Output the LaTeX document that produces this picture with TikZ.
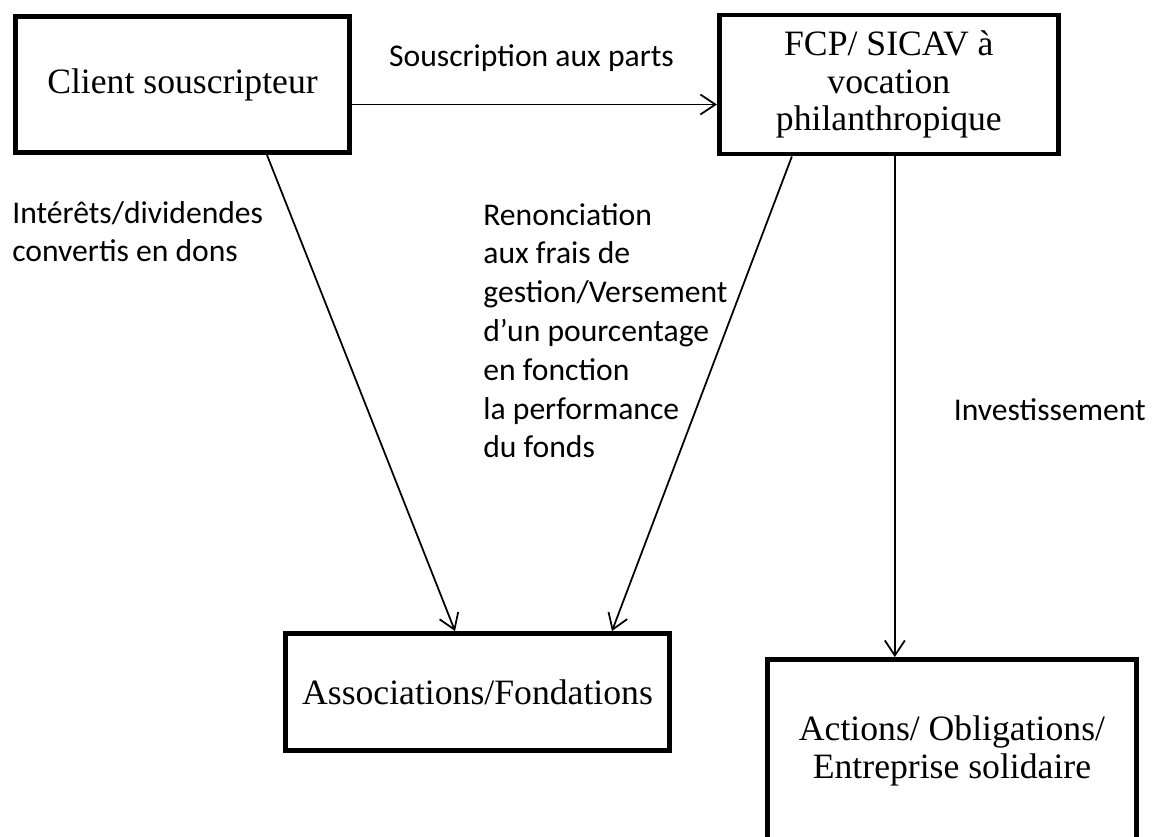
\documentclass[tikz,border=0pt]{standalone}
\usepackage{fontspec}
\setmainfont{Liberation Serif}
\newfontfamily\labelfont{Carlito}
\usetikzlibrary{shapes,arrows.meta}
\tikzstyle{block} = [rectangle, draw, line width=2.8pt, align=center,
    font=\fontsize{20.3}{21.5}\selectfont, inner sep=0pt]
\tikzstyle{line} = [draw, line width=1pt, -{Straight Barb[length=3mm,width=4mm,line width=1pt]}]
\tikzstyle{lbl} = [inner sep=0pt, align=left, font=\labelfont\fontsize{18}{22.1}\selectfont]

\begin{document}
\begin{tikzpicture}[x=0.02cm, y=-0.02cm, node distance = 2cm, auto]
    \useasboundingbox (0,0) rectangle (1152,837);
    % Place nodes
    \node [block, minimum width=6.68cm, minimum height=2.72cm] (client) at (182.5,84.5) {Client souscripteur};
    \node [block, right of=client, node distance=14.13cm, minimum width=6.78cm, minimum height=2.78cm] (fcp)
        {FCP/ SICAV à\\ vocation\\ philanthropique};
    \node [block, minimum width=7.68cm, minimum height=2.34cm] (assoc) at (477.5,692) {Associations/Fondations};
    \node [block, minimum width=7.38cm, minimum height=3.66cm] (actions) at (952,751)
        {Actions/ Obligations/\\ Entreprise solidaire};

    % Labels (base = last line)
    \node [lbl, anchor=base] (souscr) at (531.5,67) {Souscription aux parts};
    \node [lbl, anchor=base west] (interets) at (12,262) {Intérêts/dividendes\\ convertis en dons};
    \node [lbl, anchor=base west] (renonc) at (483,458) {Renonciation\\ aux frais de\\ gestion/Versement\\ d’un pourcentage\\ en fonction\\ la performance\\ du fonds};
    \node [lbl, anchor=base east] (invest) at (1146,420) {Investissement};

    % Draw edges
    \path [line] ([yshift=-0.4cm]client.east) -- ([yshift=-0.4cm]fcp.west);
    \path [line] ([xshift=1.69cm]client.south) -- ([xshift=-0.45cm]assoc.north);
    \path [line] ([xshift=-1.94cm]fcp.south) -- ([xshift=2.69cm]assoc.north);
    \path [line] ([xshift=0.12cm]fcp.south) -- ([xshift=0.12cm]fcp.south |- actions.north);

\end{tikzpicture}
\end{document}
